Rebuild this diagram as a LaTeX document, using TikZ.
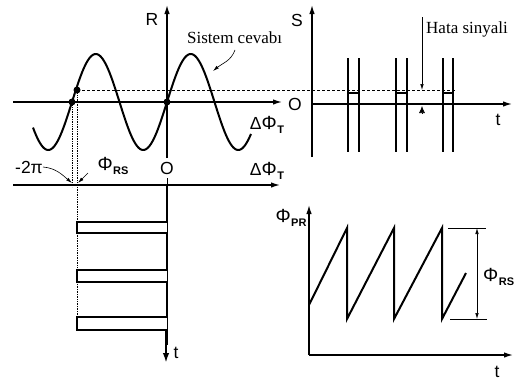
\documentclass[tikz,border=0pt]{standalone}
\usepackage{fontspec}
\setmainfont{Liberation Serif}
\newfontfamily\lsans{Liberation Sans}
\usetikzlibrary{arrows.meta}
\newcommand\phisub[1]{{\fontsize{19}{20}\selectfont Φ}\kern0.5pt\raisebox{-0.35ex}{\fontsize{11}{11}\selectfont\bfseries #1}}
\begin{document}
\begin{tikzpicture}[x=1pt,y=-1pt,
  axis/.style={line width=1.3pt,-{Latex[length=9pt,width=5.5pt]}},
  wave/.style={line width=2pt},
  sig/.style={line width=2.6pt},
  thin/.style={line width=0.7pt},
  dot/.style={circle,fill=black,inner sep=0pt,minimum size=7pt},
  lbl/.style={font=\lsans\fontsize{17.5}{20}\selectfont,inner sep=0pt},
  txt/.style={font=\fontsize{17}{20}\selectfont,inner sep=0pt},
  ptr/.style={line width=0.6pt,-{Latex[length=6pt,width=3.5pt]}}
]
\useasboundingbox (0,0) rectangle (514,380);

% ---------- top-left panel ----------
\draw[axis] (167,158) -- (167,5);
\draw[axis] (13,102) -- (282,102);
\draw[axis] (13,185) -- (280,185);
\draw[thin] (167,178) -- (167,190);
\draw[wave] plot[domain=33:251,samples=160,smooth] (\x,{102-48*sin((\x-167)/95*360)});
\node[dot] (d1) at (72,102) {};
\node[dot] (d2) at (77,90) {};
\node[dot] (d0) at (167,102) {};
\draw[thin,densely dashed] (d2.center) -- (455,90);
\draw[thin,densely dotted] (d1.center) -- (72,187);
\draw[thin,densely dotted] (d2.center) -- (77,317);

\node[lbl] (R) at (152,19) {R};
\node[lbl] (O1) at (167,168) {O};
\node[lbl] (dT1) at (267,125) {Δ\phisub{T}};
\node[lbl] (dT2) at (267,171) {Δ\phisub{T}};
\node[lbl] (m2pi) at (29,167) {-2π};
\node[lbl] (phrs) at (113,166) {\phisub{RS}};
\coordinate (a1) at (72,183);
\coordinate (a2) at (78,183);
\draw[ptr] (m2pi.east) to[out=-5,in=140] (a1);
\draw[ptr] (88,173) -- (a2);

\node[txt,anchor=west] (sc) at (187,38) {Sistem cevabı};
\coordinate (sca) at (213,71);
\draw[ptr] (235,50) to[out=-110,in=40] (sca);

% ---------- top-right panel ----------
\draw[axis] (312,157) -- (312,5);
\draw[axis] (312,104) -- (512,104);
\node[lbl] (S) at (297,20) {S};
\node[lbl] (O2) at (295,104) {O};
\node[lbl] (t1) at (498,120) {t};
\draw[sig] (312,104) -- (348,104) (359,104) -- (396,104) (407,104) -- (443,104) (453,104) -- (480,104);
\foreach \a/\b in {348/359,396/407,443/453}{
  \draw[sig] (\a,58) -- (\a,152);
  \draw[sig] (\b,58) -- (\b,152);
  \draw[line width=1.8pt] (\a,93) -- (\b,93);
}
\node[txt,anchor=west] (hs) at (426,29) {Hata sinyali};
\coordinate (h1) at (422,17);
\coordinate (h2) at (422,90);
\coordinate (h3) at (422,114);
\coordinate (h4) at (422,106);
\draw[ptr] (h1) -- (h2);
\draw[line width=0.6pt,-{Latex[length=7pt,width=6pt]}] (h3) -- (h4);

% ---------- bottom-left panel ----------
\draw[thin] (167,185) -- (167,340);
\draw[sig,line join=miter] (167,185) -- (167,222) -- (77,222) -- (77,233) -- (167,233)
  -- (167,270) -- (77,270) -- (77,282) -- (167,282)
  -- (167,317) -- (77,317) -- (77,330) -- (167,330) -- (167,345);
\draw[line width=2.4pt,-{Latex[length=10pt,width=6.5pt]}] (166,330) -- (166,363);
\node[lbl] (t2) at (176,353) {t};

% ---------- bottom-right panel ----------
\draw[axis] (309,355) -- (309,205);
\draw[axis] (309,355) -- (513,355);
\node[lbl] (ppr) at (291,218) {\phisub{PR}};
\node[lbl] (t3) at (497,372) {t};
\draw[wave,line join=miter] (309,305) -- (347,228) -- (347,319) -- (394,228) -- (394,319)
  -- (442,228) -- (442,319) -- (466,273);
\draw[thin] (448,228) -- (486,228);
\draw[thin] (450,319) -- (487,319);
\coordinate (r1) at (477,228);
\coordinate (r2) at (477,319);
\draw[line width=0.6pt,{Latex[length=6pt,width=3.5pt]}-{Latex[length=6pt,width=3.5pt]}] (r1) -- (r2);
\node[lbl,anchor=west] (prs) at (483,277) {\phisub{RS}};
\end{tikzpicture}
\end{document}
